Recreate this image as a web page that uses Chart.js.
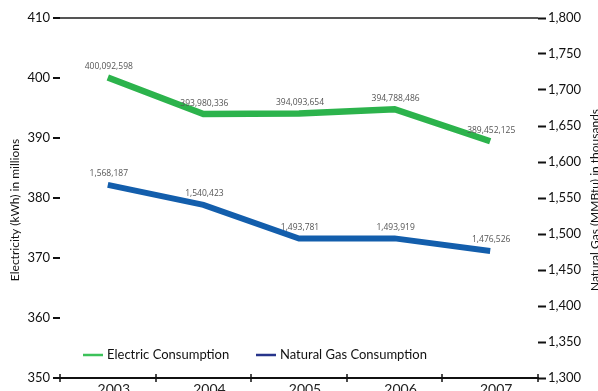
<!DOCTYPE html>
<html>
<head>
<meta charset="utf-8">
<script src="https://cdn.jsdelivr.net/npm/chart.js@4"></script>
<style>
  body { margin: 0; background: #fff; }
</style>
</head>
<body>
<canvas id="chart" width="598" height="391"></canvas>
<script>
// ------------------ Data --------------------

var years = ['2003', '2004', '2005', '2006', '2007'];
var electricKwh = [400092598, 393980336, 394093654, 394788486, 389452125];   // kWh
var gasMmbtu = [1568187, 1540423, 1493781, 1493919, 1476526];               // MMBtu

var seriesNames = ['Electric Consumption', 'Natural Gas Consumption'];

// axis titles
var leftTitle = 'Electricity (kWh) in millions';
var rightTitle = 'Natural Gas (MMBtu) in thousands';


// ----- plugins ------

// numbers above each point
var pointLabels = {
  id: 'pointLabels',
  afterDatasetsDraw: function(chart) {
    var ctx = chart.ctx;
    var raw = [electricKwh, gasMmbtu];
    ctx.save();
    ctx.font = '8.5px "Open Sans"';
    ctx.fillStyle = '#555';
    ctx.textAlign = 'center';
    ctx.textBaseline = 'middle';
    chart.data.datasets.forEach(function(ds, d) {
      chart.getDatasetMeta(d).data.forEach(function(pt, i) {
        ctx.fillText(raw[d][i].toLocaleString('en-US'), pt.x + 1, pt.y - 11);
      });
    });
    ctx.restore();
  }
};

// rotated axis titles, legend inside the plot, + marks on the x axis
var extras = {
  id: 'extras',
  afterDraw: function(chart) {
    var ctx = chart.ctx;
    var area = chart.chartArea;
    var x = chart.scales.x;
    ctx.save();

    // x axis crosses at category boundaries
    ctx.strokeStyle = '#111';
    ctx.lineWidth = 1.5;
    for (var i = 0; i <= years.length; i++) {
      var px = Math.round(x.getPixelForValue(i - 0.5));
      ctx.beginPath();
      ctx.moveTo(px, area.bottom - 4);
      ctx.lineTo(px, area.bottom + 4);
      ctx.stroke();
    }

    // axis titles, both reading bottom to top
    ctx.fillStyle = '#111';
    ctx.font = '12px Lato';
    ctx.textAlign = 'center';
    ctx.textBaseline = 'middle';
    ctx.save();
    ctx.translate(15, 210);
    ctx.rotate(-Math.PI / 2);
    ctx.fillText(leftTitle, 0, 0);
    ctx.restore();
    ctx.save();
    ctx.translate(595, 200);
    ctx.rotate(-Math.PI / 2);
    ctx.fillText(rightTitle, 0, 0);
    ctx.restore();

    // legend
    var legendColors = ['#3cc25a', '#27348b'];
    var lx = [83, 256];
    var ly = 355;
    ctx.font = '13px Lato';
    ctx.textAlign = 'left';
    seriesNames.forEach(function(name, k) {
      ctx.strokeStyle = legendColors[k];
      ctx.lineWidth = 2.5;
      ctx.beginPath();
      ctx.moveTo(lx[k], ly);
      ctx.lineTo(lx[k] + 20, ly);
      ctx.stroke();
      ctx.fillStyle = '#111';
      ctx.fillText(name, lx[k] + 24, ly);
    });

    ctx.restore();
  }
};


// ----- INIT ------

var ctx = document.getElementById('chart').getContext('2d');

var chart = new Chart(ctx, {
  type: 'line',
  data: {
    labels: years,
    datasets: [
      {
        label: seriesNames[0],
        data: electricKwh.map(function(v) { return v / 1e6; }),
        yAxisID: 'y',
        borderColor: '#2cb34c',
        borderWidth: 6.5,
        borderCapStyle: 'butt',
        borderJoinStyle: 'miter',
        pointRadius: 0,
        tension: 0
      },
      {
        label: seriesNames[1],
        data: gasMmbtu.map(function(v) { return v / 1e3; }),
        yAxisID: 'y1',
        borderColor: '#135eac',
        borderWidth: 6,
        borderCapStyle: 'butt',
        borderJoinStyle: 'miter',
        pointRadius: 0,
        tension: 0
      }
    ]
  },
  options: {
    responsive: false,
    animation: false,
    layout: { padding: { top: 18 } },
    plugins: {
      legend: { display: false },
      tooltip: { enabled: false }
    },
    scales: {
      x: {
        offset: true,
        grid: { offset: true, drawOnChartArea: false, drawTicks: false },
        border: { color: '#111', width: 2 },
        ticks: {
          color: '#222',
          font: { family: 'Lato', size: 14 },
          padding: 3,
          labelOffset: 6,
          maxRotation: 0
        },
        afterFit: function(s) { s.height = 13; }
      },
      y: {
        position: 'left',
        min: 350,
        max: 410,
        ticks: {
          stepSize: 10,
          color: '#111',
          font: { family: 'Lato', size: 13 },
          padding: 3
        },
        grid: {
          color: function(c) { return c.tick && c.tick.value === 410 ? '#555' : 'rgba(0,0,0,0)'; },
          lineWidth: 2,
          tickColor: '#111',
          tickLength: 7,
          tickWidth: 2
        },
        border: { display: false },
        afterFit: function(s) { s.width = 60; }
      },
      y1: {
        position: 'right',
        min: 1300,
        max: 1800,
        ticks: {
          stepSize: 50,
          color: '#111',
          font: { family: 'Lato', size: 13 },
          padding: 2,
          callback: function(v) { return v.toLocaleString('en-US'); }
        },
        grid: {
          drawOnChartArea: false,
          tickColor: '#111',
          tickLength: 8,
          tickWidth: 2
        },
        border: { display: false },
        afterFit: function(s) { s.width = 60; }
      }
    }
  },
  plugins: [pointLabels, extras]
});
</script>
</body>
</html>
